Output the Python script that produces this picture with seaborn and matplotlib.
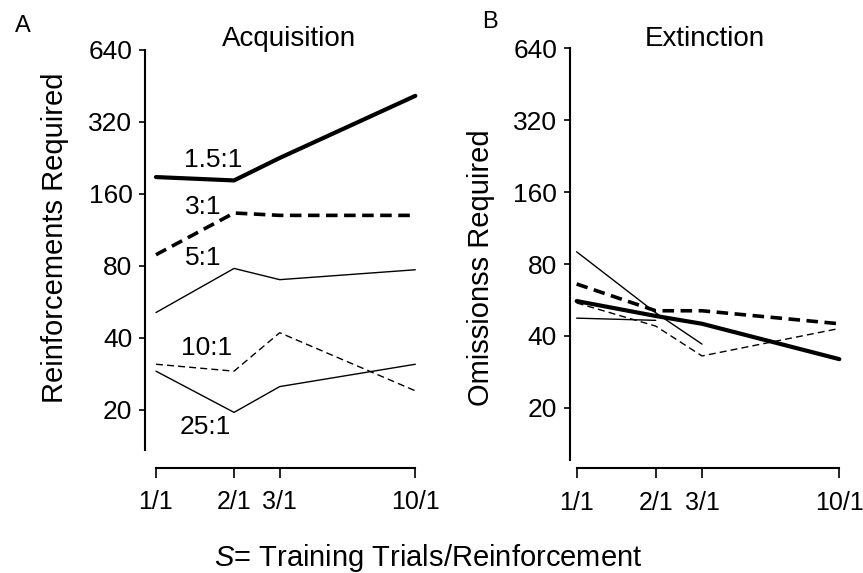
import numpy as np
import pandas as pd
import matplotlib
matplotlib.use("Agg")
import matplotlib.pyplot as plt
import seaborn as sns

# training trials per reinforcement (1/1, 2/1, 3/1, 10/1)
trials = [1, 2, 3, 10]
tick_labels = ["1/1", "2/1", "3/1", "10/1"]
ratios = ["1.5:1", "3:1", "5:1", "10:1", "25:1"]

# Acquisition: reinforcements required
acq_15 = [188, 182, 226, 411]
acq_3 = [89, 133, 130, 130]
acq_5 = [51, 78, 70, 77]
acq_10 = [31, 29, 42, 24]
acq_25 = [29, 19.5, 25, 31]

# Extinction: omissions required
ext_15 = [56, 48.5, 45, 32]
ext_3 = [66, 51, 51, 45]
ext_5 = [90, 50, 37, np.nan]
ext_10 = [55, 44, 33, 43]
ext_25 = [47.5, 46.5, np.nan, np.nan]

y_ticks = [20, 40, 80, 160, 320, 640]

sns.set_style("ticks")
plt.rcParams["font.family"] = ["Liberation Sans", "DejaVu Sans"]
plt.rcParams["mathtext.fontset"] = "custom"
plt.rcParams["mathtext.it"] = "Liberation Sans:italic"
for key in ["text.color", "axes.labelcolor", "xtick.color", "ytick.color",
            "axes.edgecolor"]:
    plt.rcParams[key] = "black"

# line style per ratio: (linewidth, dash pattern)
styles = {
    "1.5:1": (3.0, "-"),
    "3:1": (2.6, (0, (3.2, 1.8))),
    "5:1": (1.0, "-"),
    "10:1": (1.0, (0, (5, 3))),
    "25:1": (1.0, "-"),
}

fig = plt.figure(figsize=(8.63, 5.73), dpi=100)
ax_a = fig.add_axes([0.168, 0.215, 0.319, 0.698])
ax_b = fig.add_axes([0.660, 0.197, 0.319, 0.719])


def draw_panel(ax, series, ylim, xlim, offset):
    for name, vals in zip(ratios, series):
        df = pd.DataFrame({"x": trials, "y": vals}).dropna()
        lw, ls = styles[name]
        sns.lineplot(data=df, x="x", y="y", ax=ax, color="black",
                     linewidth=lw, linestyle=ls, estimator=None, sort=False)
    ax.set_xscale("log")
    ax.set_yscale("log", base=2)
    ax.set_xlim(*xlim)
    ax.set_ylim(*ylim)
    ax.set_xticks(trials)
    ax.set_xticklabels(tick_labels)
    ax.set_yticks(y_ticks)
    ax.set_yticklabels([str(v) for v in y_ticks])
    ax.minorticks_off()
    ax.tick_params(axis="x", length=7, width=1.2, labelsize=18, pad=9)
    ax.tick_params(axis="y", length=4, width=1.2, labelsize=19, pad=5)
    sns.despine(ax=ax)
    ax.spines["bottom"].set_bounds(1, 10)
    ax.spines["bottom"].set_position(("outward", offset))
    ax.spines["left"].set_linewidth(1.5)
    ax.spines["bottom"].set_linewidth(1.5)
    ax.set_xlabel("")


draw_panel(ax_a, [acq_15, acq_3, acq_5, acq_10, acq_25],
           (13.6, 640), (0.907, 10.45), 13)
draw_panel(ax_b, [ext_15, ext_3, ext_5, ext_10, ext_25],
           (12.1, 640), (0.94, 10.5), 6)

ax_a.set_ylabel("Reinforcements Required", fontsize=21, va="center")
ax_a.yaxis.set_label_coords(-0.327, 0.53)
ax_b.set_ylabel("Omissionss Required", fontsize=21, va="center")
ax_b.yaxis.set_label_coords(-0.32, 0.468)

fig.text(0.335, 0.932, "Acquisition", fontsize=20, ha="center", va="center")
fig.text(0.817, 0.932, "Extinction", fontsize=20, ha="center", va="center")

# series labels in panel A
label_pos = [(0.247, 0.725), (0.211, 0.608), (0.211, 0.48),
             (0.225, 0.255), (0.218, 0.058)]
for name, (lx, ly) in zip(ratios, label_pos):
    ax_a.text(lx, ly, name, transform=ax_a.transAxes, fontsize=19,
              ha="center", va="center")

fig.text(0.027, 0.955, "A", fontsize=17, ha="center", va="center")
fig.text(0.568, 0.962, "B", fontsize=17, ha="center", va="center")
fig.text(0.496, 0.026, r"$\it{S}$= Training Trials/Reinforcement",
         fontsize=21, ha="center", va="center")

fig.savefig("out.png", dpi=100)
